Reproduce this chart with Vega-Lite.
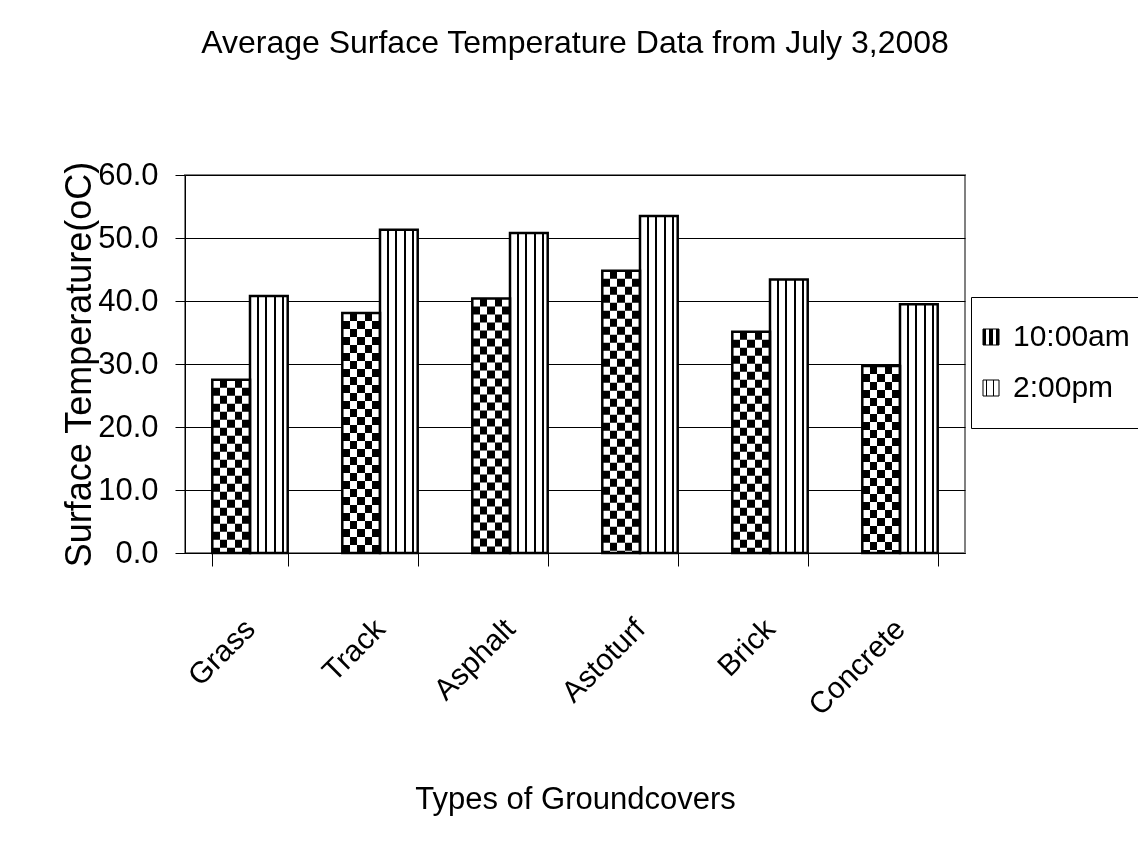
{
  "$schema": "https://vega.github.io/schema/vega-lite/v6.json",
  "width": 780,
  "height": 378,
  "autosize": "none",
  "padding": {"left": 185, "top": 175, "right": 173, "bottom": 312},
  "background": "white",
  "title": {
    "text": "Average Surface Temperature Data from July 3,2008",
    "font": "Liberation Sans",
    "fontSize": 32,
    "fontWeight": "normal",
    "color": "black",
    "anchor": "middle",
    "baseline": "alphabetic",
    "offset": 74
  },
  "data": {
    "values": [
      {"cover": "Grass", "time": "10:00am", "temp": 27.5},
      {"cover": "Grass", "time": "2:00pm", "temp": 40.8},
      {"cover": "Track", "time": "10:00am", "temp": 38.1},
      {"cover": "Track", "time": "2:00pm", "temp": 51.3},
      {"cover": "Asphalt", "time": "10:00am", "temp": 40.4},
      {"cover": "Asphalt", "time": "2:00pm", "temp": 50.8},
      {"cover": "Astoturf", "time": "10:00am", "temp": 44.8},
      {"cover": "Astoturf", "time": "2:00pm", "temp": 53.5},
      {"cover": "Brick", "time": "10:00am", "temp": 35.1},
      {"cover": "Brick", "time": "2:00pm", "temp": 43.4},
      {"cover": "Concrete", "time": "10:00am", "temp": 29.7},
      {"cover": "Concrete", "time": "2:00pm", "temp": 39.5}
    ]
  },
  "encoding": {
    "x": {
      "field": "cover",
      "type": "nominal",
      "sort": null,
      "scale": {"paddingInner": 0.42, "paddingOuter": 0.21},
      "axis": {
        "title": "Types of Groundcovers",
        "titleFont": "Liberation Sans",
        "titleFontSize": 31,
        "titleFontWeight": "normal",
        "titleColor": "black",
        "titleBaseline": "alphabetic",
        "titleY": 255,
        "labelFont": "Liberation Sans",
        "labelFontSize": 30,
        "labelColor": "black",
        "labelAngle": -45,
        "labelAlign": "right",
        "labelBaseline": "middle",
        "labelPadding": 58,
        "tickBand": "extent",
        "tickSize": 13,
        "tickColor": "black",
        "domainColor": "black",
        "grid": false
      }
    },
    "xOffset": {
      "field": "time",
      "type": "nominal",
      "scale": {"domain": ["10:00am", "2:00pm"], "paddingInner": 0, "paddingOuter": 0}
    },
    "y": {
      "field": "temp",
      "type": "quantitative",
      "scale": {"domain": [0, 60], "nice": false},
      "axis": {
        "title": "Surface Temperature(oC)",
        "titleFont": "Liberation Sans",
        "titleFontSize": 36,
        "titleFontWeight": "normal",
        "titleColor": "black",
        "titleBaseline": "alphabetic",
        "titleX": -95,
        "values": [0, 10, 20, 30, 40, 50, 60],
        "format": ".1f",
        "labelFont": "Liberation Sans",
        "labelFontSize": 31,
        "labelColor": "black",
        "labelPadding": 17,
        "tickSize": 10,
        "tickColor": "black",
        "domainColor": "black",
        "grid": true,
        "gridColor": "black",
        "gridOpacity": 1
      }
    }
  },
  "layer": [
    {
      "transform": [{"filter": "datum.time == '10:00am'"}],
      "mark": {"type": "bar", "strokeWidth": 0},
      "encoding": {
        "fill": {
          "field": "time",
          "type": "nominal",
          "scale": {
            "domain": ["10:00am", "2:00pm"],
            "range": [
              {"expr": "{gradient: 'linear', x1: 0, y1: 0, x2: 1, y2: 0, stops: [{offset: 0, color: '#000'}, {offset: 0.2, color: '#000'}, {offset: 0.2, color: '#fff'}, {offset: 0.4, color: '#fff'}, {offset: 0.4, color: '#000'}, {offset: 0.6, color: '#000'}, {offset: 0.6, color: '#fff'}, {offset: 0.8, color: '#fff'}, {offset: 0.8, color: '#000'}, {offset: 1, color: '#000'}]}"},
              {"expr": "{gradient: 'linear', x1: 0, y1: 0, x2: 1, y2: 0, stops: [{offset: 0, color: '#fff'}, {offset: 0.19, color: '#fff'}, {offset: 0.19, color: '#000'}, {offset: 0.24, color: '#000'}, {offset: 0.24, color: '#fff'}, {offset: 0.41, color: '#fff'}, {offset: 0.41, color: '#000'}, {offset: 0.46, color: '#000'}, {offset: 0.46, color: '#fff'}, {offset: 0.63, color: '#fff'}, {offset: 0.63, color: '#000'}, {offset: 0.68, color: '#000'}, {offset: 0.68, color: '#fff'}, {offset: 0.85, color: '#fff'}, {offset: 0.85, color: '#000'}, {offset: 0.9, color: '#000'}, {offset: 0.9, color: '#fff'}, {offset: 1, color: '#fff'}]}"}
            ]
          },
          "legend": {
            "title": null,
            "orient": "none",
            "legendX": 786,
            "legendY": 122,
            "strokeColor": "black",
            "padding": 25,
            "labelFont": "Liberation Sans",
            "labelFontSize": 30,
            "labelColor": "black",
            "symbolType": "square",
            "symbolSize": 256,
            "symbolStrokeColor": "black",
            "symbolStrokeWidth": 1,
            "symbolOffset": -20,
            "rowPadding": 21,
            "labelOffset": 7
          }
        }
      }
    },
    {
      "transform": [{"filter": "datum.time == '10:00am'"}],
      "mark": {"type": "rule", "color": "white", "strokeWidth": 37.7, "strokeDash": [8, 8], "strokeCap": "butt", "blend": "difference"},
      "encoding": {
        "y2": {"datum": 0}
      }
    },
    {
      "transform": [{"filter": "datum.time == '2:00pm'"}],
      "mark": {"type": "bar", "strokeWidth": 0},
      "encoding": {
        "fill": {"field": "time", "type": "nominal"}
      }
    },
    {
      "mark": {"type": "bar", "fill": "transparent", "stroke": "black", "strokeWidth": 2.5},
      "encoding": {}
    }
  ],
  "config": {
    "view": {"stroke": "#808080", "strokeWidth": 2},
    "axis": {"domainWidth": 1, "tickWidth": 1}
  }
}
